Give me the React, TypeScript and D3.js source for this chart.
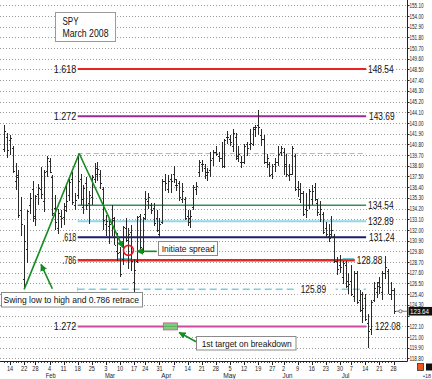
import React from "react";
import * as d3 from "d3";

// ---------- DATA ----------
const holidays = ["2008-01-21", "2008-03-21", "2008-05-26", "2008-07-04"];
const firstDate = "2008-01-10";
const lastDate = "2008-07-28";

// [open, high, low, close]
const janBars = [
  [140.3, 142.8, 140.0, 142.2], [141.6, 142.0, 139.4, 140.2], [141.2, 141.8, 139.7, 141.5],
  [140.4, 140.6, 137.9, 138.1], [137.0, 138.9, 136.1, 137.4], [137.6, 138.2, 133.2, 133.5],
  [134.0, 135.4, 131.4, 132.6], [127.0, 132.5, 125.89, 130.9], [130.0, 134.0, 128.6, 133.9],
  [134.6, 135.8, 133.6, 135.3], [136.2, 137.0, 132.8, 133.2], [133.4, 135.6, 132.4, 135.5],
  [135.7, 136.7, 134.6, 136.3], [136.2, 138.5, 135.2, 135.7], [135.0, 138.2, 133.8, 138.0],
];
const febBars = [
  [138.1, 139.6, 137.4, 139.4], [139.1, 139.4, 137.9, 138.0], [137.4, 137.6, 133.4, 133.7],
  [134.3, 135.6, 132.0, 132.8], [132.2, 134.2, 131.6, 133.7], [133.4, 134.0, 132.2, 133.2],
  [133.3, 134.8, 132.5, 134.0], [134.5, 136.6, 133.8, 135.0], [135.6, 137.2, 135.0, 136.9],
  [137.2, 138.0, 134.6, 134.9], [134.6, 135.8, 134.0, 135.1], [135.6, 139.86, 135.2, 137.0],
  [137.2, 137.8, 134.6, 135.2], [134.4, 136.6, 133.6, 136.3], [136.8, 137.4, 134.0, 134.6],
  [134.8, 136.0, 132.6, 135.6], [135.4, 137.6, 134.6, 137.4], [137.2, 138.9, 136.8, 138.4],
  [137.8, 139.0, 137.0, 138.3], [137.8, 138.2, 136.2, 136.8], [136.2, 136.4, 132.0, 133.0],
];
const marBars = [
  [132.6, 133.5, 131.4, 132.9], [132.4, 133.0, 130.6, 132.6], [132.8, 134.6, 131.4, 133.2],
  [133.0, 133.3, 130.4, 130.5], [129.8, 131.7, 128.8, 129.6], [129.7, 130.2, 127.2, 127.5],
  [129.0, 132.4, 128.4, 132.3], [132.2, 133.2, 130.8, 131.0], [129.4, 132.2, 128.0, 131.6],
  [131.8, 132.5, 127.8, 128.8], [126.6, 129.0, 125.5, 127.9], [128.8, 133.4, 128.6, 133.3],
  [133.4, 133.6, 130.0, 130.2], [130.0, 133.3, 129.6, 133.2], [133.6, 136.0, 133.0, 135.2],
  [135.0, 135.8, 134.2, 135.4], [134.6, 134.8, 133.6, 134.1], [134.3, 134.8, 132.4, 132.7],
  [133.2, 134.0, 131.8, 132.0], [131.6, 133.2, 131.2, 132.6],
];
const aprBars = [
  [132.8, 137.2, 132.6, 137.0], [137.0, 137.8, 136.0, 136.8], [136.2, 137.6, 135.8, 137.0],
  [137.2, 137.8, 135.8, 137.0], [137.8, 138.6, 136.8, 137.2], [136.6, 137.2, 136.0, 136.6],
  [136.8, 137.0, 135.0, 135.4], [135.2, 136.8, 134.8, 136.0], [135.2, 135.4, 133.0, 133.2],
  [133.4, 134.0, 132.4, 132.8], [133.2, 134.0, 132.2, 133.4], [134.4, 136.6, 134.0, 136.4],
  [136.2, 136.9, 135.6, 136.5], [138.0, 139.2, 137.4, 139.0], [138.8, 139.2, 138.0, 138.8],
  [138.4, 138.8, 137.2, 137.6], [138.0, 138.4, 137.0, 138.0], [138.2, 140.0, 137.4, 139.2],
  [139.4, 140.2, 138.6, 140.0], [140.0, 140.6, 139.6, 139.8], [139.6, 140.0, 139.0, 139.4],
  [139.4, 141.0, 138.4, 138.6],
];
const mayBars = [
  [138.6, 141.4, 138.4, 141.2], [141.6, 142.2, 140.8, 141.6], [141.4, 141.8, 140.6, 141.0],
  [140.6, 142.4, 140.0, 142.0], [141.6, 142.0, 139.2, 139.4], [139.6, 140.6, 139.0, 139.8],
  [139.0, 139.6, 138.4, 139.0], [139.0, 140.8, 138.8, 140.6], [140.8, 141.0, 139.6, 140.4],
  [140.8, 142.4, 140.2, 140.9], [140.8, 142.6, 140.6, 142.4], [142.6, 142.8, 141.6, 142.6],
  [142.8, 144.3, 141.8, 142.6], [141.8, 142.4, 140.6, 141.4], [141.4, 141.8, 138.8, 139.0],
  [139.0, 139.8, 138.4, 139.4], [138.8, 139.0, 137.4, 137.6], [137.8, 138.8, 137.2, 138.6],
  [138.8, 139.4, 138.0, 139.0], [139.0, 140.6, 138.6, 139.8], [140.0, 140.6, 139.6, 140.4],
];
const junBars = [
  [140.0, 140.4, 137.6, 138.6], [138.8, 139.8, 137.4, 137.8], [137.6, 138.8, 137.0, 137.8],
  [137.8, 140.6, 137.6, 140.4], [139.6, 139.8, 136.0, 136.2], [136.4, 137.0, 135.4, 136.2],
  [135.2, 136.8, 134.8, 135.8], [135.8, 136.0, 133.4, 133.6], [134.2, 135.8, 133.2, 134.0],
  [134.6, 136.2, 134.2, 136.0], [135.2, 136.6, 134.6, 136.0], [136.4, 136.8, 135.0, 135.2],
  [134.8, 135.2, 133.4, 133.8], [133.6, 135.0, 132.8, 134.2], [133.6, 133.8, 131.6, 131.8],
  [132.2, 132.8, 131.2, 131.6], [131.4, 132.6, 130.8, 131.2], [131.6, 133.4, 131.2, 132.0],
  [131.4, 131.6, 128.6, 128.8], [128.8, 129.2, 127.4, 128.0], [128.4, 129.4, 127.6, 128.2],
];
const julBars = [
  [127.2, 128.8, 126.4, 128.6], [128.4, 128.8, 126.0, 126.2], [126.8, 127.6, 125.4, 126.4],
  [126.8, 128.4, 125.2, 125.4], [125.2, 127.8, 124.6, 127.6], [127.6, 127.8, 124.4, 124.6],
  [124.8, 125.8, 123.6, 125.4], [123.8, 125.6, 122.4, 124.0], [125.0, 125.4, 122.6, 122.8],
  [122.4, 123.4, 119.9, 121.6], [121.8, 124.8, 121.2, 124.6], [124.8, 126.6, 124.6, 126.0],
  [125.6, 126.6, 125.0, 126.2], [126.6, 127.2, 125.4, 126.1], [125.6, 127.8, 124.8, 127.6],
  [127.6, 129.3, 127.0, 128.2], [127.8, 128.0, 125.4, 125.4], [125.4, 126.6, 124.8, 125.8],
  [125.8, 126.0, 123.4, 123.64],
];

const priceTicks = [
  "155.10", "154.00", "152.90", "151.80", "150.70", "149.60", "148.50", "147.40", "146.30",
  "145.20", "144.10", "143.00", "141.90", "140.80", "139.70", "138.60", "137.50", "136.40",
  "135.30", "134.20", "133.10", "132.00", "130.90", "129.80", "128.70", "127.60", "126.50",
  "125.40", "124.30", "123.20", "122.10", "121.00", "119.90", "118.80",
];
const weekTicks = [
  "2008-01-14", "2008-01-22", "2008-01-28", "2008-02-04", "2008-02-11", "2008-02-18",
  "2008-02-25", "2008-03-03", "2008-03-10", "2008-03-17", "2008-03-24", "2008-03-31",
  "2008-04-07", "2008-04-14", "2008-04-21", "2008-04-28", "2008-05-05", "2008-05-12",
  "2008-05-19", "2008-05-27", "2008-06-02", "2008-06-09", "2008-06-16", "2008-06-23",
  "2008-06-30", "2008-07-07", "2008-07-14", "2008-07-21", "2008-07-28",
];
const monthNames = ["Feb", "Mar", "Apr", "May", "Jun", "Jul"];
const monthStarts = ["2008-02-01", "2008-03-03", "2008-04-01", "2008-05-01", "2008-06-02", "2008-07-01"];

const levelValues = [148.54, 143.69, 139.86, 134.54, 132.89, 131.24, 128.88, 125.89, 122.08];
const levelLeftLabels = ["1.618", "1.272", "", "", "", ".618", ".786", "", "1.272"];
const levelRightLabels = ["148.54", "143.69", "", "134.54", "132.89", "131.24", "128.88", "125.89", "122.08"];
const levelEnds = ["2008-07-14", "2008-07-14", "2008-07-14", "2008-07-14", "2008-07-14", "2008-07-14", "2008-07-08", "2008-07-14", "2008-07-14"];
const levelStart = "2008-02-18";

// short cyan entry marks just above the .786 line
const entryMarkValue = 129.0;
const entryMarkSpans = [["2008-03-07", "2008-03-14"], ["2008-07-01", "2008-07-08"]];

const lastPrice = 123.64;

// ---------- STYLES ----------
const levelColors = ["#e8261e", "#9a2a98", "#7fcde0", "#3d8c5c", "#92d6ea", "#1e1e6a", "#e8261e", "#7fcde0", "#d04a9c"];
const levelWidths = [2, 2, 1.2, 1.5, 2, 2, 2.5, 1.5, 2];
const levelDashes = [null, null, "5,3", null, null, null, null, "7,4", null];
const FONT = "'Liberation Sans', Arial, Helvetica, sans-serif";
const GREEN = "#148c1e";

const fmt = d3.timeFormat("%Y-%m-%d");
const parse = d3.timeParse("%Y-%m-%d");

export default function App() {
  const days = d3.timeDay
    .range(parse(firstDate)!, d3.timeDay.offset(parse(lastDate)!, 1))
    .filter((d) => d.getDay() % 6 !== 0 && !holidays.includes(fmt(d)))
    .map(fmt);
  const ohlc = [...janBars, ...febBars, ...marBars, ...aprBars, ...mayBars, ...junBars, ...julBars];
  const bars = days.map((d, i) => ({ date: d, o: ohlc[i][0], h: ohlc[i][1], l: ohlc[i][2], c: ohlc[i][3] }));

  const x = d3.scalePoint<string>().domain(days).range([4.4, 393.5]);
  const y = d3
    .scaleLinear()
    .domain([+priceTicks[priceTicks.length - 1], +priceTicks[0]])
    .range([358.3, 5.3]);
  const px = (d: string) => Math.round(x(d)!) + 0.5;

  const axisX = 407.5;
  const axisY = 361.5;

  // annotation anchor points (date, price)
  const lowPt = { d: "2008-01-22", v: 125.89 };
  const highPt = { d: "2008-02-18", v: 139.86 };
  const retracePt = { d: "2008-03-11", v: 130.2 };
  const circlePt = { d: "2008-03-13", v: 129.9 };

  const yLast = y(lastPrice);

  return (
    <svg width={432} height={379} style={{ display: "block", position: "absolute", left: 0, top: 0, background: "#fff" }} fontFamily={FONT}>
      <defs>
        <marker id="ah" viewBox="0 0 10 10" refX="9" refY="5" markerWidth="7" markerHeight="7" markerUnits="userSpaceOnUse" orient="auto">
          <path d="M0,0L10,5L0,10z" fill={GREEN} />
        </marker>
      </defs>
      <rect x={0} y={0} width={432} height={379} fill="#fff" />

      {/* grid */}
      {priceTicks.map((t) => (
        <line key={"g" + t} x1={0} x2={axisX} y1={Math.round(y(+t)) + 0.5} y2={Math.round(y(+t)) + 0.5} stroke="#9a9a9a" strokeWidth={1} strokeDasharray="1,2" />
      ))}

      {/* title box */}
      <rect x={55.5} y={12.5} width={60} height={29} fill="#fff" stroke="#9a9a9a" />
      <text x={62.5} y={25} fontSize={10.5} fill="#111" textLength={16} lengthAdjust="spacingAndGlyphs">SPY</text>
      <text x={62.5} y={36.5} fontSize={10.5} fill="#111" textLength={46} lengthAdjust="spacingAndGlyphs">March 2008</text>

      {/* levels */}
      {levelValues.map((v, i) => {
        const yy = y(v);
        const x1 = x(i === 2 ? highPt.d : levelStart)!;
        const x2 = x(levelEnds[i])! + 0.8;
        const inline = i === 7;
        return (
          <g key={"lv" + i}>
            <line x1={x1} x2={x2} y1={yy} y2={yy} stroke={levelColors[i]} strokeWidth={levelWidths[i]} strokeDasharray={levelDashes[i] ?? undefined} />
            {i === 7 && <line x1={x1} x2={x1} y1={yy - 2} y2={yy + 2} stroke={levelColors[i]} strokeWidth={1} />}
            {levelLeftLabels[i] && (
              <text x={x1 - 1.5} y={yy + 3.6} fontSize={10} textAnchor="end" fill="#111" textLength={levelLeftLabels[i].length === 4 ? 14 : 22.5} lengthAdjust="spacingAndGlyphs">
                {levelLeftLabels[i]}
              </text>
            )}
            {levelRightLabels[i] && inline && (
              <g>
                <rect x={x(days[104])! - 1} y={yy - 5} width={39} height={10} fill="#fff" />
                <text x={x(days[104])! + 3} y={yy + 3.7} fontSize={10.5} fill="#111" textLength={25.5} lengthAdjust="spacingAndGlyphs">
                  {levelRightLabels[i]}
                </text>
              </g>
            )}
            {levelRightLabels[i] && !inline && (
              <text x={x2 + (i === 8 ? 9 : i === 1 || i === 5 ? 3 : 2)} y={yy + 3.7} fontSize={10.5} fill="#111" textLength={25.5} lengthAdjust="spacingAndGlyphs">
                {levelRightLabels[i]}
              </text>
            )}
          </g>
        );
      })}
      {entryMarkSpans.map(([a, b]) => (
        <line key={"em" + a} x1={x(a)} x2={x(b)} y1={y(entryMarkValue) - 0.5} y2={y(entryMarkValue) - 0.5} stroke="#6cc6dc" strokeWidth={1.2} />
      ))}

      {/* target zone rectangle */}
      <rect x={x("2008-04-01")! + 1} y={y(122.08) - 3.5} width={x("2008-04-07")! - x("2008-04-01")! + 3} height={7} fill="#7ccf7c" stroke="#d04a9c" strokeWidth={0.8} />
      <line x1={x("2008-04-01")! + 1} x2={x("2008-04-07")! + 4} y1={y(122.08)} y2={y(122.08)} stroke="#4a9a4a" strokeWidth={0.6} />

      {/* OHLC bars */}
      <g stroke="#2a2a2a" strokeWidth={1} shapeRendering="crispEdges">
        {bars.map((b) => {
          const xx = px(b.date);
          return (
            <g key={b.date}>
              <line x1={xx} x2={xx} y1={y(b.h)} y2={y(b.l)} />
              <line x1={xx - 1.5} x2={xx} y1={Math.round(y(b.o)) + 0.5} y2={Math.round(y(b.o)) + 0.5} />
              <line x1={xx} x2={xx + 1.5} y1={Math.round(y(b.c)) + 0.5} y2={Math.round(y(b.c)) + 0.5} />
            </g>
          );
        })}
      </g>

      {/* swing lines */}
      <line x1={x(lowPt.d)} y1={y(lowPt.v)} x2={x(highPt.d)! + 1.5} y2={y(highPt.v)} stroke={GREEN} strokeWidth={1.6} />
      <line x1={x(highPt.d)! + 1.5} y1={y(highPt.v)} x2={x(retracePt.d)} y2={y(retracePt.v)} stroke={GREEN} strokeWidth={1.6} markerEnd="url(#ah)" />

      {/* red circle */}
      <circle cx={x(circlePt.d)} cy={y(circlePt.v)} r={5} fill="none" stroke="#e8141e" strokeWidth={1.6} />

      {/* annotation boxes */}
      <rect x={158.5} y={241.5} width={59} height={14} fill="#fff" stroke="#8a8a8a" />
      <text x={161.7} y={252.3} fontSize={9.8} fill="#111" textLength={53} lengthAdjust="spacingAndGlyphs">Initiate spread</text>
      <line x1={x("2008-03-28")} y1={y(129.8)} x2={x("2008-03-18")} y2={y(129.8)} stroke={GREEN} strokeWidth={1.6} markerEnd="url(#ah)" />

      <rect x={1.5} y={292.5} width={141} height={14.5} fill="#fff" stroke="#8a8a8a" />
      <text x={3.5} y={303.4} fontSize={9.8} fill="#111" textLength={135.5} lengthAdjust="spacingAndGlyphs">Swing low to high and 0.786 retrace</text>
      <line x1={x("2008-02-05")} y1={y(125.95)} x2={x("2008-01-30")} y2={y(128.45)} stroke={GREEN} strokeWidth={1.6} markerEnd="url(#ah)" />

      <rect x={196.5} y={336.5} width={99.5} height={13.5} fill="#fff" stroke="#8a8a8a" />
      <text x={201.7} y={347} fontSize={9.8} fill="#111" textLength={90} lengthAdjust="spacingAndGlyphs">1st target on breakdown</text>
      <line x1={x("2008-04-17")} y1={y(120.5)} x2={x("2008-04-09")} y2={y(121.45)} stroke={GREEN} strokeWidth={1.6} markerEnd="url(#ah)" />

      {/* right axis */}
      <line x1={axisX} x2={axisX} y1={0} y2={axisY} stroke="#222" strokeWidth={1} />
      {priceTicks.map((t) => {
        const ty = y(+t);
        const hidden = Math.abs(ty - yLast) < 6;
        return (
          <g key={"t" + t}>
            <line x1={axisX} x2={axisX + 2} y1={Math.round(ty) + 0.5} y2={Math.round(ty) + 0.5} stroke="#222" />
            {!hidden && (
              <text x={409.5} y={ty + 2.6} fontSize={7} fill="#222" textLength={14} lengthAdjust="spacingAndGlyphs">{t}</text>
            )}
          </g>
        );
      })}

      {/* last price marker */}
      <line x1={396} x2={axisX} y1={yLast} y2={yLast} stroke="#555" strokeWidth={0.8} />
      <circle cx={400.5} cy={yLast} r={1.6} fill="#fff" stroke="#555" strokeWidth={0.8} />
      <rect x={408.5} y={yLast - 4.3} width={23.5} height={8.6} fill="#111" />
      <text x={410} y={yLast + 2.6} fontSize={7} fill="#fff" textLength={19} lengthAdjust="spacingAndGlyphs">{lastPrice.toFixed(2)}</text>

      {/* bottom axis */}
      <line x1={0} x2={axisX} y1={axisY} y2={axisY} stroke="#222" strokeWidth={1} />
      {days.map((d) => (
        <line key={"dt" + d} x1={px(d)} x2={px(d)} y1={axisY} y2={axisY + 1.5} stroke="#444" strokeWidth={1} shapeRendering="crispEdges" />
      ))}
      {weekTicks.map((d) => {
        const label = String(+d.slice(8));
        return (
          <g key={"w" + d}>
            <line x1={px(d)} x2={px(d)} y1={axisY} y2={axisY + 3} stroke="#222" shapeRendering="crispEdges" />
            <text x={x(d)} y={370.5} fontSize={7} fill="#222" textAnchor="middle" textLength={label.length * 3.1} lengthAdjust="spacingAndGlyphs">{label}</text>
          </g>
        );
      })}
      {monthNames.map((m, i) => (
        <text key={m} x={x(monthStarts[i])! - 1} y={378.3} fontSize={6.6} fill="#222" textLength={m === "May" ? 12.5 : m === "Jul" ? 7.7 : 10} lengthAdjust="spacingAndGlyphs">{m}</text>
      ))}

      {/* corner icons */}
      <rect x={417.5} y={363.5} width={6} height={7} fill="#ee5522" stroke="#333" strokeWidth={0.8} />
      <rect x={426} y={363.5} width={6} height={7} fill="#111" />
      <text x={423} y={378} fontSize={5.5} fill="#333">•18</text>
    </svg>
  );
}
